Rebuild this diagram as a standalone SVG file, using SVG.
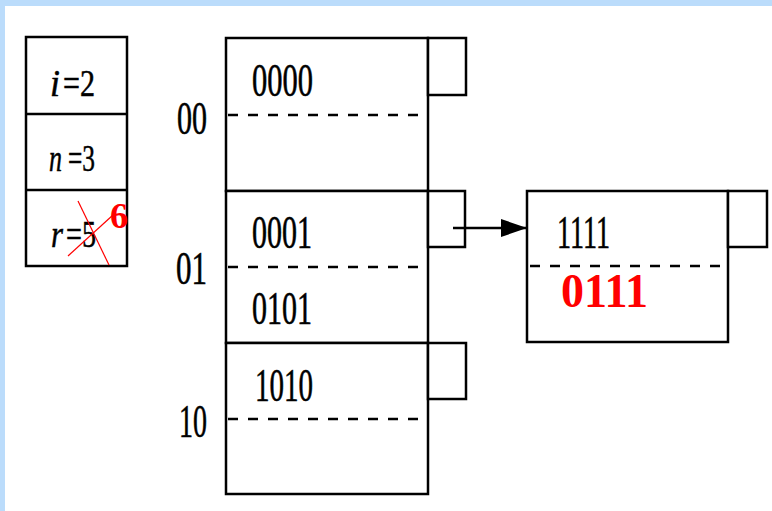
<svg xmlns="http://www.w3.org/2000/svg" width="772" height="511" viewBox="0 0 772 511">
<style>
.box{fill:#fff;stroke:#000;stroke-width:2.5}
.dash{stroke:#000;stroke-width:2.5;stroke-dasharray:10 10;fill:none}
.t{font-family:"Liberation Serif",serif;font-size:46px;fill:#000;stroke:#000;stroke-width:0.6}
.s{font-family:"Liberation Serif",serif;font-size:38px;fill:#000;stroke:#000;stroke-width:0.5}
.it{font-style:italic}
.r{font-family:"Liberation Serif",serif;font-weight:bold;fill:#f00}
</style>
<defs>
<marker id="ah" markerWidth="26" markerHeight="18" refX="26" refY="9" orient="auto" markerUnits="userSpaceOnUse">
<path d="M0,0 L26,9 L0,18 Z" fill="#000"/>
</marker>
</defs>
<rect x="0" y="0" width="772" height="511" fill="#fff"/>
<rect x="0" y="0" width="772" height="6" fill="#bbdcfb"/>
<rect x="0" y="0" width="5" height="511" fill="#bbdcfb"/>

<g id="params">
<rect class="box" x="26" y="37" width="101" height="229"/>
<line x1="26" y1="114" x2="127" y2="114" stroke="#000" stroke-width="2.5"/>
<line x1="26" y1="190" x2="127" y2="190" stroke="#000" stroke-width="2.5"/>
<text class="s it" x="50" y="96" textLength="10" lengthAdjust="spacingAndGlyphs">i</text>
<text class="s" x="63" y="96" textLength="32" lengthAdjust="spacingAndGlyphs">=2</text>
<text class="s it" x="49" y="171" textLength="13" lengthAdjust="spacingAndGlyphs">n</text>
<text class="s" x="68" y="171" textLength="27" lengthAdjust="spacingAndGlyphs">=3</text>
<text class="s it" x="51" y="247" textLength="12" lengthAdjust="spacingAndGlyphs">r</text>
<text class="s" x="66" y="247" textLength="30" lengthAdjust="spacingAndGlyphs">=5</text>
<line x1="78" y1="201" x2="109" y2="265" stroke="#f00" stroke-width="1.2"/>
<line x1="68" y1="256" x2="113" y2="215" stroke="#f00" stroke-width="1.2"/>
<text class="r" x="110" y="228" font-size="36">6</text>
</g>

<g id="labels">
<text class="t" x="177" y="134" textLength="30" lengthAdjust="spacingAndGlyphs">00</text>
<text class="t" x="176" y="284" textLength="31" lengthAdjust="spacingAndGlyphs">01</text>
<text class="t" x="179" y="437" textLength="28" lengthAdjust="spacingAndGlyphs">10</text>
</g>

<g id="bucket00">
<rect class="box" x="226" y="38" width="202" height="153"/>
<rect class="box" x="428" y="38" width="38" height="57"/>
<line class="dash" x1="228" y1="115" x2="418" y2="115"/>
<text class="t" x="252" y="96" textLength="61" lengthAdjust="spacingAndGlyphs">0000</text>
</g>

<g id="bucket01">
<rect class="box" x="226" y="191" width="202" height="152"/>
<rect class="box" x="428" y="191" width="37" height="56"/>
<line class="dash" x1="228" y1="267" x2="418" y2="267"/>
<text class="t" x="252" y="248" textLength="60" lengthAdjust="spacingAndGlyphs">0001</text>
<text class="t" x="252" y="324" textLength="60" lengthAdjust="spacingAndGlyphs">0101</text>
</g>

<g id="bucket10">
<rect class="box" x="226" y="343" width="202" height="151"/>
<rect class="box" x="428" y="343" width="38" height="56"/>
<line class="dash" x1="228" y1="419" x2="418" y2="419"/>
<text class="t" x="255" y="401" textLength="58" lengthAdjust="spacingAndGlyphs">1010</text>
</g>

<g id="overflow">
<rect class="box" x="527" y="191" width="201" height="151"/>
<rect class="box" x="728" y="191" width="39" height="56"/>
<line class="dash" x1="530" y1="266" x2="720" y2="266"/>
<text class="t" x="557" y="248" textLength="53" lengthAdjust="spacingAndGlyphs">1111</text>
<text class="r" x="561" y="307" font-size="48" textLength="87" lengthAdjust="spacingAndGlyphs">0111</text>
</g>

<g id="connectors">
<line x1="453" y1="228" x2="527" y2="228" stroke="#000" stroke-width="2.5" marker-end="url(#ah)"/>
</g>
</svg>
